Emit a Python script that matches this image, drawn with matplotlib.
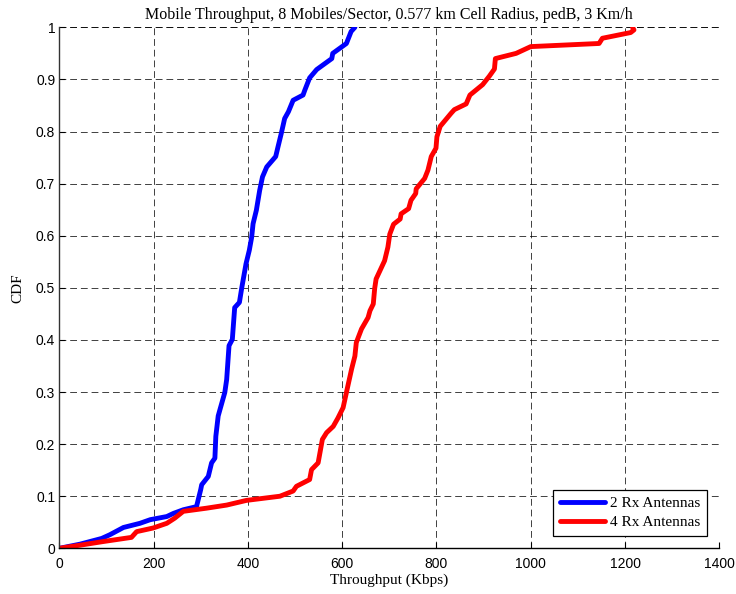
import matplotlib
matplotlib.use("Agg")
import matplotlib.pyplot as plt

# CDF curves (throughput in Kbps, cdf value)
rx2_kbps = [0, 44, 90, 107, 136, 171, 193, 228, 242, 263, 291, 300, 302, 316, 323,
            330, 332, 337, 341, 351, 355, 360, 367, 372, 382, 387, 396, 403, 408,
            411, 418, 425, 431, 440, 459, 464, 471, 478, 486, 496, 517, 521, 531,
            546, 578, 580, 609, 619, 627]
rx2_cdf = [0, 0.008, 0.019, 0.026, 0.040, 0.048, 0.055, 0.061, 0.067, 0.074, 0.080,
           0.113, 0.122, 0.138, 0.164, 0.173, 0.215, 0.254, 0.267, 0.299, 0.324,
           0.389, 0.401, 0.462, 0.472, 0.500, 0.546, 0.572, 0.597, 0.623, 0.649,
           0.687, 0.713, 0.732, 0.752, 0.771, 0.797, 0.825, 0.838, 0.860, 0.870,
           0.880, 0.903, 0.919, 0.940, 0.950, 0.969, 0.992, 1.0]

rx4_kbps = [0, 44, 93, 153, 164, 199, 228, 245, 263, 312, 355, 397, 468, 496, 503,
            531, 535, 549, 558, 567, 581, 591, 602, 609, 620, 627, 630, 641, 655,
            659, 666, 669, 672, 690, 697, 701, 709, 723, 725, 741, 746, 756, 757,
            775, 782, 789, 799, 801, 808, 831, 838, 863, 871, 898, 912, 923, 925,
            969, 1000, 1145, 1152, 1212, 1219, 1216]
rx4_cdf = [0, 0.006, 0.013, 0.021, 0.032, 0.039, 0.048, 0.058, 0.071, 0.077, 0.083,
           0.092, 0.100, 0.110, 0.119, 0.132, 0.151, 0.164, 0.209, 0.222, 0.234,
           0.250, 0.270, 0.299, 0.344, 0.369, 0.395, 0.421, 0.443, 0.456, 0.469,
           0.499, 0.517, 0.552, 0.578, 0.603, 0.622, 0.632, 0.642, 0.652, 0.668,
           0.681, 0.690, 0.710, 0.726, 0.752, 0.768, 0.790, 0.810, 0.835, 0.842,
           0.853, 0.870, 0.890, 0.906, 0.920, 0.940, 0.950, 0.963, 0.969, 0.979,
           0.990, 0.995, 1.0]

serif = ["Liberation Serif", "DejaVu Serif"]
sans = ["Liberation Sans", "DejaVu Sans"]
dash = (0, (7, 4))

fig = plt.figure(figsize=(7.36, 5.94), dpi=100)
ax = fig.add_axes([0.0806, 0.0769, 0.8967, 0.8771])

ax.plot(rx2_kbps, rx2_cdf, color="#0000ff", lw=3.5, label="2 Rx Antennas",
        solid_joinstyle="round", solid_capstyle="round")
ax.plot(rx4_kbps, rx4_cdf, color="#ff0000", lw=3.5, label="4 Rx Antennas",
        solid_joinstyle="round", solid_capstyle="round")

ax.set_xlim(0, 1400)
ax.set_ylim(0, 1)
ax.set_xticks(range(0, 1401, 200))
ax.set_yticks([i / 10 for i in range(11)])
ax.set_yticklabels(["0", "0.1", "0.2", "0.3", "0.4", "0.5", "0.6", "0.7", "0.8", "0.9", "1"])
for lab in ax.get_xticklabels() + ax.get_yticklabels():
    lab.set_family(sans)
    lab.set_fontsize(10)
ax.tick_params(direction="in", length=4, width=0.8, colors="black")
ax.tick_params(axis="x", pad=6)
ax.tick_params(axis="y", pad=3)
ax.tick_params(top=False, right=False)

ax.grid(True, color="black", linestyle=dash, linewidth=0.7, alpha=0.75)
ax.set_axisbelow(True)
# outer box drawn as dashed lines at the limits, as in the original
ax.axhline(1, color="black", linestyle=dash, linewidth=0.7, alpha=0.75, zorder=0)
ax.axvline(1400, color="black", linestyle=dash, linewidth=0.7, alpha=0.75, zorder=0)
ax.spines["top"].set_visible(False)
ax.spines["right"].set_visible(False)
ax.spines["left"].set_color("#333333")
ax.spines["left"].set_linewidth(1.0)
ax.spines["bottom"].set_linewidth(1.0)

ax.set_title("Mobile Throughput, 8 Mobiles/Sector, 0.577 km Cell Radius, pedB, 3 Km/h",
             family=serif, fontsize=11.5, pad=6)
ax.set_xlabel("Throughput (Kbps)", family=serif, fontsize=11, labelpad=2)
ax.set_ylabel("CDF", family=serif, fontsize=11, labelpad=8)

leg = ax.legend(loc="lower right", prop={"family": serif, "size": 11},
                fancybox=False, framealpha=1, edgecolor="black",
                handlelength=2.9, borderaxespad=0.8, borderpad=0.45,
                labelspacing=0.35, handletextpad=0.35)
leg.get_frame().set_linewidth(0.9)

fig.savefig("out.png", dpi=100)
